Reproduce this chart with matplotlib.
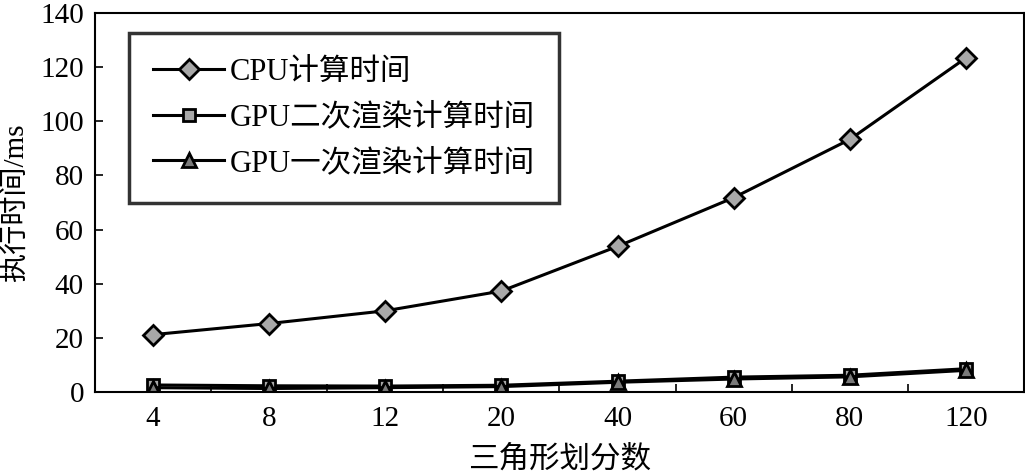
import matplotlib.pyplot as plt
import numpy as np

plt.rcParams['font.family'] = ['Liberation Serif', 'Noto Sans CJK SC']

# data
categories = ['4', '8', '12', '20', '40', '60', '80', '120']
cpu_time = [21.2, 25.3, 30.0, 37.3, 53.8, 71.8, 93.3, 123.4]
gpu_two_pass = [2.6, 2.3, 2.2, 2.5, 4.0, 5.5, 6.2, 8.6]
gpu_one_pass = [1.6, 1.3, 1.6, 2.0, 3.6, 4.8, 5.6, 8.0]
series_labels = ['CPU计算时间', 'GPU二次渲染计算时间', 'GPU一次渲染计算时间']

fig = plt.figure(figsize=(10.25, 4.75), dpi=100)
ax = fig.add_axes([0.0927, 0.1747, 0.9063, 0.7979])

x = np.arange(len(categories))
ax.plot(x, cpu_time, color='black', lw=2.2, marker='D', ms=10,
        mfc='#a8a8a8', mec='black', mew=2, label=series_labels[0])
ax.plot(x, gpu_two_pass, color='black', lw=2.2, marker='s', ms=9,
        mfc='#a8a8a8', mec='black', mew=2, label=series_labels[1])
ax.plot(x, gpu_one_pass, color='black', lw=2.2, marker='^', ms=10,
        mfc='#7a7a7a', mec='black', mew=2, label=series_labels[2])

ax.set_xlim(-0.5, len(categories) - 0.5)
ax.set_ylim(0, 140)
ax.set_yticks(np.arange(0, 141, 20))

# category labels at centers, tick marks at boundaries
ax.set_xticks(x)
ax.set_xticklabels(categories)
ax.tick_params(axis='x', which='major', length=0, labelsize=21, pad=10)
ax.set_xticks(np.arange(0.5, len(categories) - 1, 1), minor=True)
ax.tick_params(axis='x', which='minor', direction='in', length=6, width=1.2)
ax.tick_params(axis='y', direction='in', length=6, width=1.2, labelsize=21, pad=8)

for s in ax.spines.values():
    s.set_linewidth(1.5)

ax.set_xlabel('三角形划分数', fontsize=22, labelpad=10)
ax.set_ylabel('执行时间/ms', fontsize=21, labelpad=8)

leg = ax.legend(loc='upper left', bbox_to_anchor=(0.0366, 0.947), borderaxespad=0,
                fontsize=22, frameon=True, fancybox=False, handlelength=2.3,
                labelspacing=0.55, borderpad=0.8, handletextpad=0.2)
leg.get_frame().set_edgecolor('black')
leg.get_frame().set_linewidth(2.5)

fig.savefig('out.png', dpi=100)
